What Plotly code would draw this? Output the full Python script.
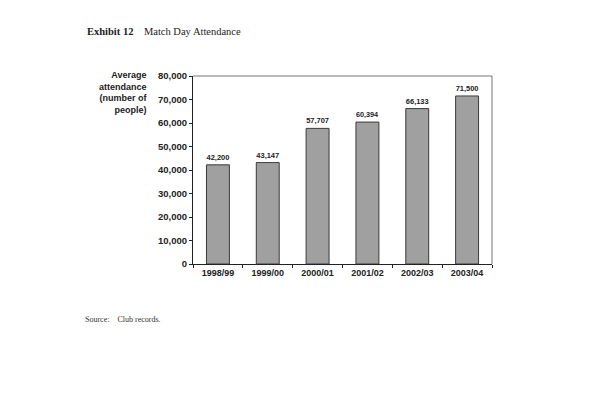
import plotly.graph_objects as go

seasons = ["1998/99", "1999/00", "2000/01", "2001/02", "2002/03", "2003/04"]
attendance = [42200, 43147, 57707, 60394, 66133, 71500]
y_ticks = [0, 10000, 20000, 30000, 40000, 50000, 60000, 70000, 80000]

fig = go.Figure()
fig.add_trace(go.Bar(
    x=seasons, y=attendance,
    width=0.46,
    marker=dict(color="#a0a0a0", line=dict(color="#3a3a3a", width=1)),
    text=[f"{v:,}" for v in attendance],
    textposition="outside",
    textfont=dict(family="Liberation Sans", size=7.5, color="#222", weight="bold"),
    cliponaxis=False,
))

fig.update_layout(
    width=589, height=395,
    margin=dict(l=193, r=97, t=76, b=131),
    paper_bgcolor="white", plot_bgcolor="white",
    showlegend=False,
    xaxis=dict(
        showline=True, linecolor="#222", linewidth=1, mirror=False,
        ticks="outside", tickson="boundaries", ticklen=3, tickcolor="#222",
        tickfont=dict(family="Liberation Sans", size=9, color="#222", weight="bold"),
        showgrid=False,
    ),
    yaxis=dict(
        range=[0, 80000], tickvals=y_ticks, tickformat=",",
        showline=True, linecolor="#222", linewidth=1,
        ticks="outside", ticklen=3, tickcolor="#222",
        tickfont=dict(family="Liberation Sans", size=9.5, color="#222", weight="bold"),
        showgrid=False, zeroline=False,
    ),
)

# thin top/right frame
fig.add_shape(type="line", xref="paper", yref="paper", x0=0, x1=1, y0=1, y1=1,
              line=dict(color="#777", width=1))
fig.add_shape(type="line", xref="paper", yref="paper", x0=1, x1=1, y0=0, y1=1,
              line=dict(color="#777", width=1))

fig.add_annotation(
    text="Average<br>attendance<br>(number of<br>people)",
    xref="paper", yref="paper", x=-0.143, y=1.045, xanchor="right", yanchor="top",
    align="right", showarrow=False,
    font=dict(family="Liberation Sans", size=9, color="#222", weight="bold"),
)
fig.add_annotation(
    text="<b>Exhibit 12</b>    Match Day Attendance",
    xref="paper", yref="paper", x=-0.362, y=1.238, xanchor="left", yanchor="middle",
    showarrow=False, font=dict(family="Liberation Serif", size=10.5, color="#222"),
)
fig.add_annotation(
    text="Source:    Club records.",
    xref="paper", yref="paper", x=-0.368, y=-0.296, xanchor="left", yanchor="middle",
    showarrow=False, font=dict(family="Liberation Serif", size=8, color="#333"),
)

fig.write_html("out.html", config={"displayModeBar": False},
               post_script="document.body.style.margin='0';")
